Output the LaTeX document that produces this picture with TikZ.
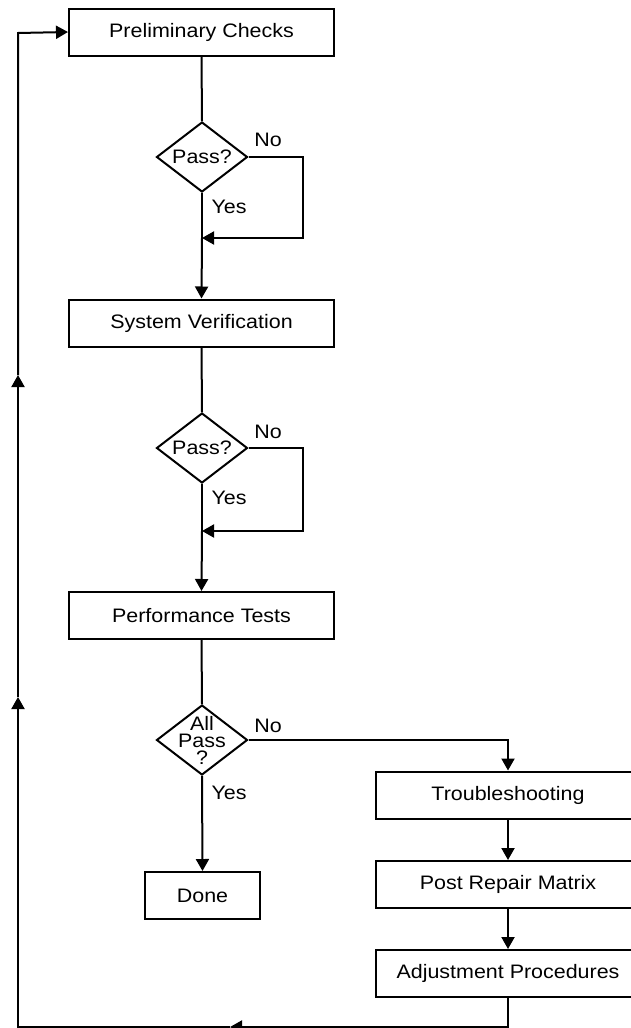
\documentclass[tikz,border=0pt]{standalone}
\usepackage{fontspec}
\setmainfont{Liberation Sans}[FakeStretch=1.1]
\usetikzlibrary{shapes.geometric}
\usetikzlibrary{arrows.meta}

\tikzset{
  stepbox/.style={draw,line width=2pt,minimum width=265pt,minimum height=47pt,inner sep=0pt},
  decision/.style={draw,diamond,line width=2pt,minimum width=91pt,minimum height=70pt,inner sep=0pt},
  flow/.style={line width=2pt},
  arrow/.style={flow,-{Triangle[length=12pt,width=13pt]}},
  txt/.style={font=\fontsize{19.5}{17}\selectfont,align=center}
}

\begin{document}
\begin{tikzpicture}[x=1pt,y=-1pt,every node/.style={txt}]
\useasboundingbox (0,0) rectangle (631,1028);
% main column
\node[stepbox] (pc) at (201.5,32) {Preliminary Checks};
\node[decision,label={[txt]center:Pass?}] (d1) at (202,157) {};
\node[stepbox] (sv) at (201.5,323) {System Verification};
\node[decision,label={[txt]center:Pass?}] (d2) at (202,448) {};
\node[stepbox] (pt) at (201.5,615.5) {Performance Tests};
\node[decision,label={[txt]center:All\\Pass\\?}] (d3) at (202,740) {};
\node[draw,line width=2pt,minimum width=115pt,minimum height=47pt] (done) at (202.5,895.5) {Done};
% repair column
\node[stepbox] (ts) at (508,795) {Troubleshooting};
\node[stepbox] (pr) at (508,884.5) {Post Repair Matrix};
\node[stepbox] (ad) at (508,973.5) {Adjustment Procedures};
% labels
\node (no1) at (268,140) {No};
\node (yes1) at (229,207) {Yes};
\node (no2) at (268,432) {No};
\node (yes2) at (229,498) {Yes};
\node (no3) at (268,726) {No};
\node (yes3) at (229,793) {Yes};
% join points
\coordinate (r1) at (303,238);
\coordinate (j1) at (202,238);
\coordinate (r2) at (303,531);
\coordinate (j2) at (202,531);
\coordinate (b1) at (508,1027);
\coordinate (m1) at (230,1027);
\coordinate (b2) at (18,1027);
\coordinate (u2) at (18,697);
\coordinate (u1) at (18,375);
\coordinate (b3) at (18,33);

\draw[flow] (pc.south) -- (d1.north);
\draw[flow] (d1.south) -- (j1);
\draw[arrow] (d1.east) -| (r1) -- (j1);
\draw[arrow] (j1) -- (sv.north);
\draw[flow] (sv.south) -- (d2.north);
\draw[flow] (d2.south) -- (j2);
\draw[arrow] (d2.east) -| (r2) -- (j2);
\draw[arrow] (j2) -- (pt.north);
\draw[flow] (pt.south) -- (d3.north);
\draw[arrow] (d3.south) -- (done.north);
\draw[arrow] (d3.east) -| (ts.north);
\draw[arrow] (ts.south) -- (pr.north);
\draw[arrow] (pr.south) -- (ad.north);
% return loop
\draw[arrow] (ad.south) -- (b1) -- (m1);
\draw[arrow] (m1) -- (b2) -- (u2);
\draw[arrow] (u2) -- (u1);
\draw[arrow] (u1) -- (b3) -- (pc.west);
\end{tikzpicture}
\end{document}
